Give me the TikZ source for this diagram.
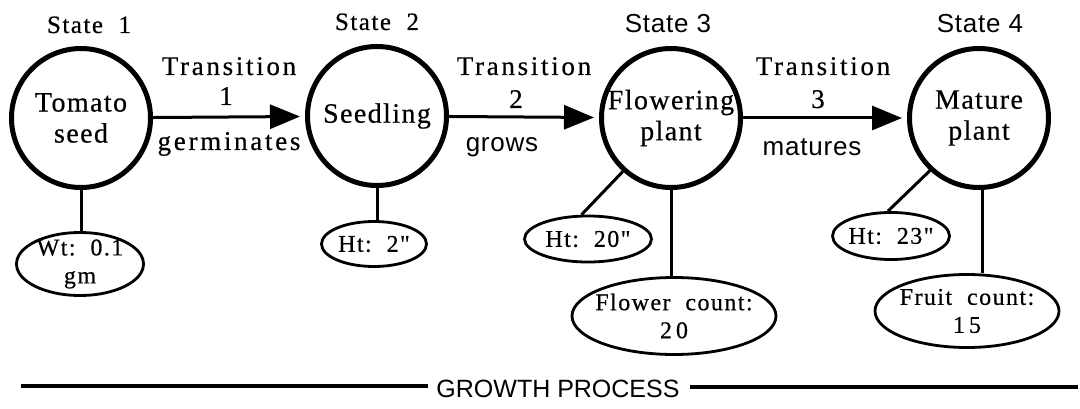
\documentclass[tikz,border=0pt]{standalone}
\usepackage{fontspec}
\setmainfont{Liberation Serif}
\newfontfamily\serifsp[LetterSpace=5,FakeBold=0.5]{Liberation Serif}
\newfontfamily\serifwide[LetterSpace=10,FakeBold=0.5]{Liberation Serif}
\newfontfamily\seriftight[LetterSpace=6,FakeBold=0.5]{Liberation Serif}
\newfontfamily\sanssp[LetterSpace=3]{Liberation Sans}
\newfontfamily\sansplain{Liberation Sans}
\usetikzlibrary{shapes.geometric, arrows.meta}
\begin{document}
\begin{tikzpicture}[x=1pt,y=-1pt,
  state/.style={circle, draw, line width=5pt, minimum size=139pt, inner sep=-30pt,
    align=center, font=\serifsp\fontsize{28}{31}\selectfont},
  attr/.style={ellipse, draw, line width=2.8pt, inner sep=-30pt, align=center,
    font=\seriftight\fontsize{24}{28}\selectfont},
  stem/.style={line width=3pt},
  trans/.style={line width=3pt, -{Triangle[length=30pt,width=24pt]}, shorten >=5pt},
  slbl/.style={anchor=base, inner sep=0pt, font=\serifwide\fontsize{27}{28}\selectfont},
  stlbl/.style={anchor=base, inner sep=0pt, font=\seriftight\fontsize{25}{28}\selectfont},
  sanslbl/.style={anchor=base, inner sep=0pt, font=\sanssp\fontsize{26}{28}\selectfont},
  rule/.style={line width=4.5pt},
]
\useasboundingbox (0,0) rectangle (1080,409);

% states
\node[state] (c1) at (81,118) {Tomato\\seed};
\node[state] (c2) at (377,116) {Seedling};
\node[state] (c3) at (671,118) {Flowering\\plant};
\node[state] (c4) at (979,118) {Mature\\plant};

% state titles
\node[stlbl] (s1) at (89,33) {State\ \ 1};
\node[stlbl] (s2) at (377,30) {State\ \ 2};
\node[sanslbl] (s3) at (668,33) {State 3};
\node[sanslbl] (s4) at (980,33) {State 4};

% transitions
\draw[trans] (c1) -- (c2);
\draw[trans] (c2) -- (c3);
\draw[trans] (c3) -- (c4);

\node[slbl] (t1a) at (229,75) {Transition};
\node[slbl] (t1b) at (226,105) {1};
\node[slbl] (t1c) at (229,150) {germinates};
\node[slbl] (t2a) at (524,75) {Transition};
\node[slbl] (t2b) at (516,108) {2};
\node[sanslbl] (t2c) at (502,152) {grows};
\node[slbl] (t3a) at (823,75) {Transition};
\node[slbl] (t3b) at (818,108) {3};
\node[sanslbl] (t3c) at (812,156) {matures};

% attributes
\node[attr, minimum width=127pt, minimum height=63pt] (a1) at (80,264) {Wt:\ \ 0.1\\gm};
\node[attr, minimum width=105pt, minimum height=45pt] (a2) at (374,244) {Ht:\ \ 2"};
\node[attr, minimum width=127pt, minimum height=46pt] (a3) at (588,239) {Ht:\ \ 20"};
\node[attr, minimum width=204pt, minimum height=77pt] (a4) at (674,316) {Flower\ \ count:\\2\,0};
\node[attr, minimum width=117pt, minimum height=47pt] (a5) at (891,236) {Ht:\ \ 23"};
\node[attr, minimum width=184pt, minimum height=73pt] (a6) at (967,311) {Fruit\ \ count:\\1\,5};

\draw[stem] (c1.south) -- (c1.south |- a1.north);
\draw[stem] (c2.south) -- (c2.south |- a2.north);
\draw[stem] (c3.228) -- (a3.105);
\draw[stem] (c3.south) -- (c3.south |- a4.north);
\draw[stem] (c4.227) -- (a5.97);
\draw[stem] ([xshift=3pt]c4.south) -- ([xshift=3pt]c4.south |- a6.north);

% growth process
\node[inner sep=0pt, font=\sansplain\fontsize{25}{28}\selectfont] (gp) at (558,389) {GROWTH PROCESS};
\coordinate (gl) at (21,386);
\coordinate (gr) at (1078,387);
\draw[rule] (gl) -- ([xshift=-8pt]gl -| gp.west);
\draw[rule] ([xshift=10pt]gr -| gp.east) -- (gr);
\end{tikzpicture}
\end{document}
